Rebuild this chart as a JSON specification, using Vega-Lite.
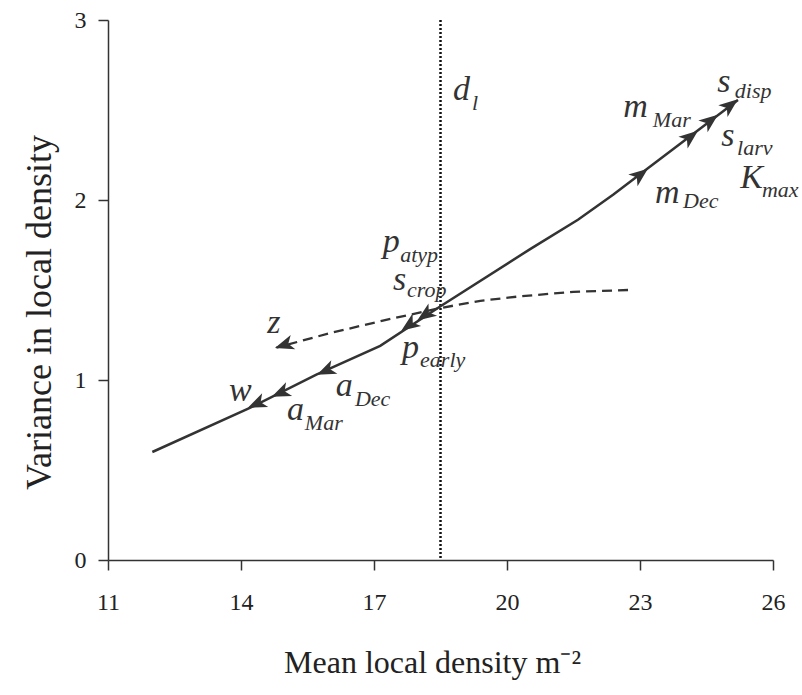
{
  "$schema": "https://vega.github.io/schema/vega-lite/v6.json",
  "autosize": {"type": "none"},
  "padding": {"left": 108, "top": 20, "right": 29, "bottom": 135},
  "width": 665,
  "height": 540,
  "background": "white",
  "config": {
    "view": {"stroke": null},
    "axis": {
      "grid": false,
      "domainColor": "#333",
      "domainWidth": 1.5,
      "tickColor": "#333",
      "tickWidth": 1.5,
      "tickSize": 10,
      "labelFont": "Liberation Serif",
      "labelFontSize": 24,
      "labelColor": "#222",
      "labelFlush": false,
      "titleFont": "Liberation Serif",
      "titleFontWeight": "normal",
      "titleFontSize": 32,
      "titleColor": "#222"
    }
  },
  "datasets": {
    "solid": [
      {"x": 12.0, "y": 0.60, "o": 0},
      {"x": 14.2, "y": 0.845, "o": 1},
      {"x": 15.7, "y": 1.03, "o": 2},
      {"x": 17.14, "y": 1.19, "o": 3},
      {"x": 18.5, "y": 1.41, "o": 4},
      {"x": 20.54, "y": 1.73, "o": 5},
      {"x": 21.6, "y": 1.89, "o": 6},
      {"x": 22.4, "y": 2.03, "o": 7},
      {"x": 23.2, "y": 2.18, "o": 8},
      {"x": 25.21, "y": 2.556, "o": 9}
    ],
    "dashed": [
      {"x": 22.73, "y": 1.50, "o": 0},
      {"x": 21.5, "y": 1.49, "o": 1},
      {"x": 20.3, "y": 1.465, "o": 2},
      {"x": 19.4, "y": 1.44, "o": 3},
      {"x": 18.5, "y": 1.40, "o": 4},
      {"x": 17.2, "y": 1.33, "o": 5},
      {"x": 16.0, "y": 1.26, "o": 6},
      {"x": 14.8, "y": 1.18, "o": 7}
    ],
    "arrows": [
      {"x": 14.36, "y": 0.868, "g": "lo"},
      {"x": 14.9, "y": 0.929, "g": "lo"},
      {"x": 15.92, "y": 1.052, "g": "lo"},
      {"x": 17.8, "y": 1.306, "g": "mid"},
      {"x": 18.16, "y": 1.362, "g": "mid"},
      {"x": 23.0, "y": 2.14, "g": "up"},
      {"x": 24.13, "y": 2.35, "g": "up"},
      {"x": 24.58, "y": 2.44, "g": "up"},
      {"x": 25.03, "y": 2.525, "g": "up"},
      {"x": 14.98, "y": 1.195, "g": "dash"}
    ],
    "mainLabels": [
      {"lab": "z", "x": 14.59, "y": 1.261},
      {"lab": "w", "x": 13.73, "y": 0.883},
      {"lab": "a", "x": 15.04, "y": 0.778},
      {"lab": "a", "x": 16.14, "y": 0.911},
      {"lab": "p", "x": 17.63, "y": 1.122},
      {"lab": "p", "x": 17.2, "y": 1.711},
      {"lab": "s", "x": 17.43, "y": 1.5},
      {"lab": "d", "x": 18.78, "y": 2.556},
      {"lab": "m", "x": 22.62, "y": 2.461},
      {"lab": "s", "x": 24.74, "y": 2.6},
      {"lab": "s", "x": 24.83, "y": 2.3},
      {"lab": "m", "x": 23.34, "y": 1.983},
      {"lab": "K", "x": 25.26, "y": 2.068}
    ],
    "subLabels": [
      {"lab": "Mar", "x": 15.44, "y": 0.722},
      {"lab": "Dec", "x": 16.57, "y": 0.856},
      {"lab": "early", "x": 18.04, "y": 1.072},
      {"lab": "atyp", "x": 17.59, "y": 1.656},
      {"lab": "crop", "x": 17.745, "y": 1.461},
      {"lab": "l", "x": 19.21, "y": 2.5},
      {"lab": "Mar", "x": 23.29, "y": 2.406},
      {"lab": "disp", "x": 25.14, "y": 2.567},
      {"lab": "larv", "x": 25.19, "y": 2.25},
      {"lab": "Dec", "x": 23.97, "y": 1.956},
      {"lab": "max", "x": 25.75, "y": 2.015}
    ],
    "dl": [{"x": 18.5}]
  },
  "encoding": {
    "x": {
      "field": "x", "type": "quantitative",
      "scale": {"domain": [11, 26], "nice": false, "zero": false},
      "axis": {
        "values": [11, 14, 17, 20, 23, 26],
        "labelPadding": 20,
        "labelFontSize": 24,
        "labelFlush": false,
        "title": "Mean local density m⁻²",
        "titleX": 324, "titleY": 112, "titleAlign": "center", "titleBaseline": "alphabetic", "titleAnchor": null
      }
    },
    "y": {
      "field": "y", "type": "quantitative",
      "scale": {"domain": [0, 3], "nice": false},
      "axis": {
        "values": [0, 1, 2, 3],
        "labelPadding": 12,
        "labelFontSize": 24,
        "labelFlush": false,
        "title": "Variance in local density",
        "titleFontSize": 36,
        "titleX": -58, "titleY": 292, "titleAlign": "center", "titleBaseline": "alphabetic", "titleAngle": 270, "titleAnchor": null
      }
    }
  },
  "layer": [
    {
      "data": {"name": "dl"},
      "mark": {"type": "rule", "strokeDash": [2, 2], "strokeWidth": 2.5, "color": "#111"},
      "encoding": {"x": {"field": "x", "type": "quantitative"}, "y": null}
    },
    {
      "data": {"name": "solid"},
      "mark": {"type": "line", "color": "#333", "strokeWidth": 2.5},
      "encoding": {"order": {"field": "o"}}
    },
    {
      "data": {"name": "dashed"},
      "mark": {"type": "line", "color": "#333", "strokeWidth": 2.3, "strokeDash": [10, 6]},
      "encoding": {"order": {"field": "o"}}
    },
    {
      "data": {"name": "arrows"},
      "transform": [{"filter": "datum.g === 'lo'"}],
      "mark": {"type": "point", "shape": "M0,-1L0.75,0.9L0,0.4L-0.75,0.9Z", "filled": true, "opacity": 1, "color": "#333", "size": 400, "angle": 246}
    },
    {
      "data": {"name": "arrows"},
      "transform": [{"filter": "datum.g === 'mid'"}],
      "mark": {"type": "point", "shape": "M0,-1L0.75,0.9L0,0.4L-0.75,0.9Z", "filled": true, "opacity": 1, "color": "#333", "size": 400, "angle": 235}
    },
    {
      "data": {"name": "arrows"},
      "transform": [{"filter": "datum.g === 'up'"}],
      "mark": {"type": "point", "shape": "M0,-1L0.75,0.9L0,0.4L-0.75,0.9Z", "filled": true, "opacity": 1, "color": "#333", "size": 400, "angle": 52}
    },
    {
      "data": {"name": "arrows"},
      "transform": [{"filter": "datum.g === 'dash'"}],
      "mark": {"type": "point", "shape": "M0,-1L0.75,0.9L0,0.4L-0.75,0.9Z", "filled": true, "opacity": 1, "color": "#333", "size": 400, "angle": 252}
    },
    {
      "data": {"name": "mainLabels"},
      "mark": {"type": "text", "font": "Liberation Serif", "fontStyle": "italic", "fontSize": 34, "align": "left", "baseline": "alphabetic", "color": "#333"},
      "encoding": {"text": {"field": "lab"}}
    },
    {
      "data": {"name": "subLabels"},
      "mark": {"type": "text", "font": "Liberation Serif", "fontStyle": "italic", "fontSize": 22, "align": "left", "baseline": "alphabetic", "color": "#333"},
      "encoding": {"text": {"field": "lab"}}
    }
  ]
}
